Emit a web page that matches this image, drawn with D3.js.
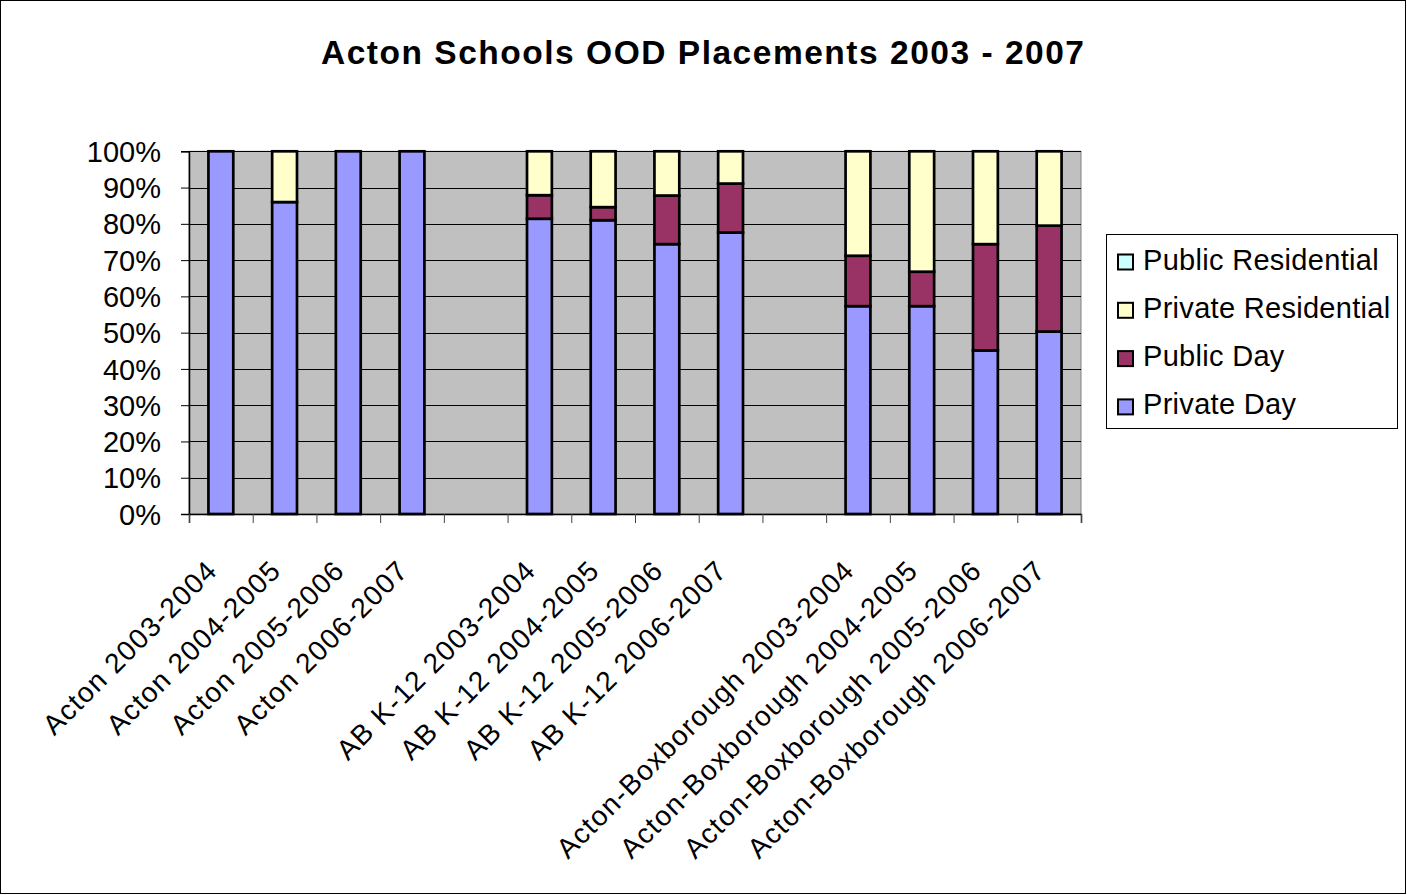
<!DOCTYPE html>
<html>
<head>
<meta charset="utf-8">
<script src="https://cdn.jsdelivr.net/npm/d3@7"></script>
<style>
  html, body { margin: 0; padding: 0; background: #fff; }
  svg { display: block; font-family: Arial, "Liberation Sans", sans-serif; }
</style>
</head>
<body>
<svg id="chart" width="1407" height="895"></svg>
<script>
// ---- data ----
const title = "Acton Schools OOD Placements 2003 - 2007";
const categories = [
  "Acton 2003-2004", "Acton 2004-2005", "Acton 2005-2006", "Acton 2006-2007",
  "",
  "AB K-12 2003-2004", "AB K-12 2004-2005", "AB K-12 2005-2006", "AB K-12 2006-2007",
  "",
  "Acton-Boxborough 2003-2004", "Acton-Boxborough 2004-2005", "Acton-Boxborough 2005-2006", "Acton-Boxborough 2006-2007"
];
const seriesNames = ["Private Day", "Public Day", "Private Residential", "Public Residential"];
const privateDay         = [100, 86, 100, 100, 0, 81.4, 81.0, 74.4, 77.6, 0, 57.3, 57.3, 45.1, 50.3];
const publicDay          = [0, 0, 0, 0, 0, 6.5, 3.6, 13.4, 13.5, 0, 13.9, 9.5, 29.3, 29.2];
const privateResidential = [0, 14, 0, 0, 0, 12.1, 15.4, 12.2, 8.9, 0, 28.8, 33.2, 25.6, 20.5];
const publicResidential  = [0, 0, 0, 0, 0, 0, 0, 0, 0, 0, 0, 0, 0, 0];
const yTicks = [0, 0.1, 0.2, 0.3, 0.4, 0.5, 0.6, 0.7, 0.8, 0.9, 1.0];
const colors = ["#9999ff", "#993366", "#ffffcc", "#ccffff"];

// ---- build table ----
const seriesArrays = [privateDay, publicDay, privateResidential, publicResidential];
const table = categories.map((c, i) => {
  const row = { idx: i, label: c };
  const total = seriesArrays.reduce((s, a) => s + a[i], 0);
  seriesNames.forEach((n, k) => { row[n] = total > 0 ? seriesArrays[k][i] / total : 0; });
  return row;
});

const svg = d3.select("#chart");
const W = 1407, H = 895;
const plot = { left: 189, right: 1081, top: 151.3, bottom: 514 };

// outer border
svg.append("rect").attr("x", 0.5).attr("y", 0.5).attr("width", W - 2).attr("height", H - 2)
  .attr("fill", "#fff").attr("stroke", "#000").attr("stroke-width", 1);

// scales
const x = d3.scaleBand().domain(d3.range(categories.length)).range([plot.left, plot.right]).padding(0);
const xLin = d3.scaleLinear().domain([0, categories.length]).range([plot.left, plot.right]);
const y = d3.scaleLinear().domain([0, 1]).range([plot.bottom, plot.top]);

// plot background
svg.append("rect").attr("x", plot.left).attr("y", plot.top)
  .attr("width", plot.right - plot.left).attr("height", plot.bottom - plot.top)
  .attr("fill", "#c0c0c0").attr("stroke", "#808080").attr("stroke-width", 1);

// gridlines
svg.append("g").selectAll("line").data(yTicks.slice(1)).join("line")
  .attr("x1", plot.left).attr("x2", plot.right)
  .attr("y1", d => Math.round(y(d)) + 0.5).attr("y2", d => Math.round(y(d)) + 0.5)
  .attr("stroke", "#000").attr("stroke-width", 1);

// bars
const stack = d3.stack().keys(seriesNames);
const stacked = stack(table);
const barW = x.bandwidth() * 0.39;
svg.append("g").selectAll("g").data(stacked).join("g")
  .attr("fill", (d, i) => colors[i])
  .selectAll("rect").data(d => d.filter(p => p[1] - p[0] > 0.0001)).join("rect")
  .attr("x", d => x(d.data.idx) + (x.bandwidth() - barW) / 2)
  .attr("width", barW)
  .attr("y", d => y(d[1]))
  .attr("height", d => y(d[0]) - y(d[1]))
  .attr("stroke", "#000").attr("stroke-width", 2.7);

// y axis
const yAxis = d3.axisLeft(y).tickValues(yTicks).tickFormat(d3.format(".0%")).tickSize(8).tickPadding(20);
const gy = svg.append("g").attr("transform", `translate(${plot.left},0)`).call(yAxis);
gy.select(".domain").attr("stroke", "#000").attr("stroke-width", 1.5);
gy.selectAll(".tick line").attr("stroke", "#000");
gy.selectAll(".tick text").attr("font-size", "29px").attr("fill", "#000")
  .attr("font-family", "Arial, 'Liberation Sans', sans-serif").attr("dy", "0.35em");

// x axis (tick marks at category boundaries)
const xAxis = d3.axisBottom(xLin).tickValues(d3.range(categories.length + 1)).tickFormat("").tickSize(9);
const gx = svg.append("g").attr("transform", `translate(0,${plot.bottom})`).call(xAxis);
gx.select(".domain").attr("stroke", "#000").attr("stroke-width", 1.5);
gx.selectAll(".tick line").attr("stroke", "#444");

// x labels
svg.append("g").selectAll("text").data(table.filter(d => d.label !== "")).join("text")
  .attr("transform", d => `translate(${x(d.idx) + x.bandwidth() / 2 - 2},572) rotate(-45)`)
  .attr("text-anchor", "end")
  .attr("font-size", "28px")
  .attr("letter-spacing", "1.3px")
  .attr("fill", "#000")
  .text(d => d.label);

// title
svg.append("text")
  .attr("x", 321).attr("y", 64)
  .attr("font-size", "33.5px").attr("font-weight", "bold")
  .attr("textLength", 763).attr("lengthAdjust", "spacing")
  .attr("fill", "#000")
  .text(title);

// legend
const lg = svg.append("g");
lg.append("rect").attr("x", 1106.5).attr("y", 234.5).attr("width", 291).attr("height", 194)
  .attr("fill", "#fff").attr("stroke", "#000").attr("stroke-width", 1);
const legendOrder = [3, 2, 1, 0];
legendOrder.forEach((k, i) => {
  const by = 269.5 + i * 48.3;
  lg.append("rect").attr("x", 1118).attr("y", by - 15).attr("width", 15).attr("height", 15)
    .attr("fill", colors[k]).attr("stroke", "#000").attr("stroke-width", 2);
  lg.append("text").attr("x", 1143).attr("y", by)
    .attr("font-size", "29px").attr("letter-spacing", "0.3px").attr("fill", "#000")
    .text(seriesNames[k]);
});
</script>
</body>
</html>
